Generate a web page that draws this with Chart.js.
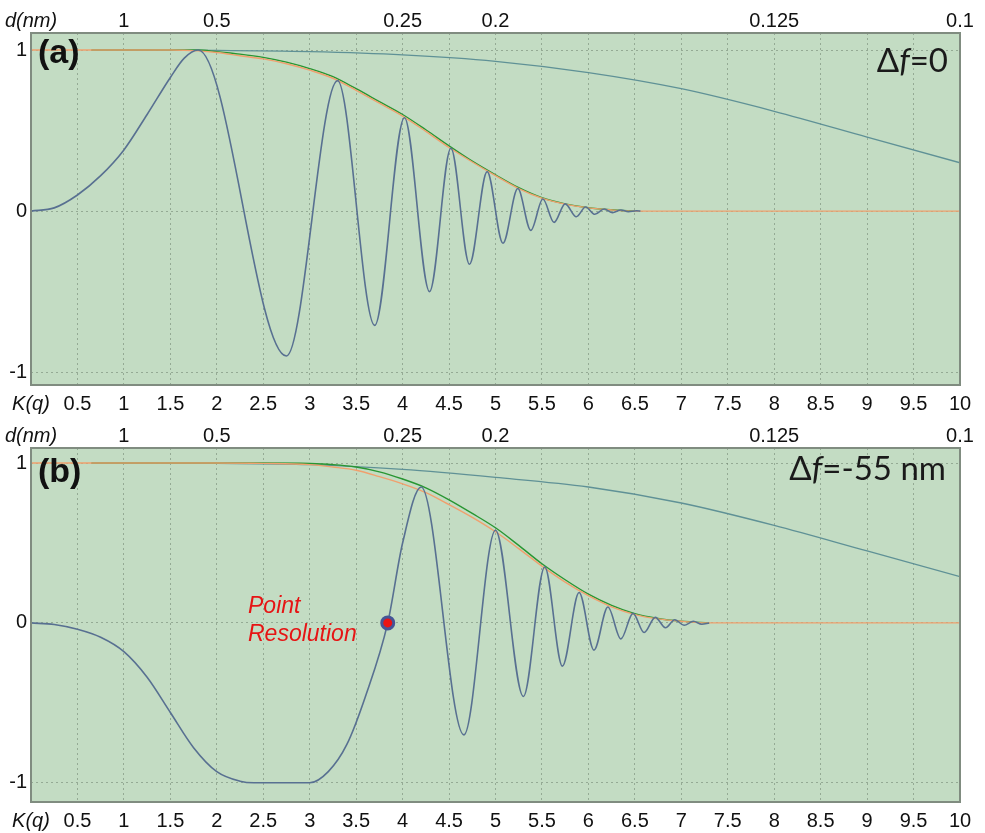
<!DOCTYPE html>
<html>
<head>
<meta charset="utf-8">
<script src="https://cdn.jsdelivr.net/npm/chart.js@4.4.1/dist/chart.umd.min.js"></script>
<style>
  html, body { margin: 0; padding: 0; background: #ffffff; }
  #wrap { position: relative; width: 985px; height: 833px; }
  canvas { position: absolute; left: 0; display: block; }
</style>
</head>
<body>
<div id="wrap">
  <canvas id="panelA" width="985" height="416" style="top:0"></canvas>
  <canvas id="panelB" width="985" height="417" style="top:416px"></canvas>
</div>
<script>
// ---- axis ticks -------------------------------------------------------
const kTickStep = 0.5;                         // K(q) ticks along the bottom
const dTickK     = [0, 1, 2, 4, 5, 8, 10];     // where the d(nm) labels sit on the K axis
const dTickText  = ['d(nm)', '1', '0.5', '0.25', '0.2', '0.125', '0.1'];
const yTickVals  = [-1, 0, 1];

// ---- panel (a): Δf = 0 --------------------------------------------------
// CTF: smooth start, then the successive maxima / minima of the oscillation
const ctfA_k = [0, 0.25, 0.5, 0.75, 1.0, 1.25, 1.5, 1.65, 1.8,
  2.75, 3.3, 3.70, 4.02, 4.29, 4.52, 4.72, 4.91, 5.08, 5.24, 5.38, 5.51, 5.63,
  5.75, 5.87, 5.97, 6.07, 6.17, 6.26, 6.35, 6.43, 6.52, 6.56];
const ctfA_v = [0, 0.02, 0.10, 0.22, 0.38, 0.60, 0.83, 0.95, 1.0,
  -0.90, 0.81, -0.71, 0.58, -0.50, 0.39, -0.33, 0.245, -0.20, 0.14, -0.12, 0.075, -0.07,
  0.045, -0.035, 0.025, -0.02, 0.013, -0.01, 0.007, -0.004, 0.002, 0];

const envA_k      = [0, 0.5, 1.0, 1.5, 1.8, 2.0, 2.25, 2.5, 2.75, 3.0, 3.25, 3.5, 3.75, 4.0, 4.25, 4.5,
  4.75, 5.0, 5.25, 5.5, 5.75, 6.0, 6.25, 6.5, 7.0, 8.0, 9.0, 10.0];
const envOrangeA  = [1, 1, 1, 1, 0.995, 0.985, 0.965, 0.945, 0.915, 0.875, 0.825, 0.75, 0.67, 0.59, 0.495, 0.395,
  0.305, 0.22, 0.14, 0.08, 0.043, 0.02, 0.007, 0, 0, 0, 0, 0];
const envGreenA_k = [0.65, 1.0, 1.5, 1.8, 2.0, 2.25, 2.5, 2.75, 3.0, 3.25, 3.5, 3.75, 4.0, 4.25, 4.5,
  4.75, 5.0, 5.25, 5.5, 5.75, 6.0, 6.25, 6.5];
const envGreenA   = [1, 1, 1, 1, 0.99, 0.975, 0.955, 0.925, 0.885, 0.835, 0.76, 0.68, 0.60, 0.505, 0.405,
  0.31, 0.225, 0.145, 0.083, 0.045, 0.021, 0.008, 0];
const spatA_k     = [0.65, 1, 2, 3, 4, 5, 6, 7, 8, 9, 10];
const spatA       = [1, 1, 0.998, 0.99, 0.97, 0.93, 0.86, 0.76, 0.62, 0.46, 0.30];

// ---- panel (b): Δf = -55 nm ---------------------------------------------
const ctfB_k = [0, 0.25, 0.5, 0.75, 1.0, 1.25, 1.5, 1.75, 2.0, 2.25, 2.4, 3.0, 3.2, 3.4, 3.6, 3.84,
  4.0, 4.2, 4.66, 5.0, 5.3, 5.53, 5.72, 5.9, 6.06, 6.21, 6.35, 6.48, 6.60, 6.72, 6.83,
  6.93, 7.03, 7.13, 7.22, 7.3];
const ctfB_v = [0, -0.01, -0.04, -0.09, -0.18, -0.34, -0.56, -0.78, -0.93, -0.99, -1.0, -1.0, -0.93, -0.76, -0.46, 0,
  0.5, 0.85, -0.70, 0.58, -0.46, 0.35, -0.27, 0.19, -0.17, 0.10, -0.10, 0.06, -0.06, 0.035, -0.03,
  0.02, -0.015, 0.01, -0.008, 0];

const envB_k      = [0, 0.5, 1, 2, 2.5, 3.0, 3.25, 3.5, 3.75, 4.0, 4.25, 4.5, 4.75, 5.0, 5.25, 5.5,
  5.75, 6.0, 6.25, 6.5, 6.75, 7.0, 7.3, 8, 9, 10];
const envOrangeB  = [1, 1, 1, 1, 0.998, 0.99, 0.975, 0.955, 0.915, 0.87, 0.815, 0.74, 0.66, 0.57, 0.465, 0.355,
  0.255, 0.17, 0.10, 0.052, 0.025, 0.01, 0, 0, 0, 0];
const envGreenB_k = [0.65, 1, 2, 2.5, 3.0, 3.25, 3.5, 3.75, 4.0, 4.25, 4.5, 4.75, 5.0, 5.25, 5.5,
  5.75, 6.0, 6.25, 6.5, 6.75, 7.0, 7.3];
const envGreenB   = [1, 1, 1, 1, 0.997, 0.99, 0.975, 0.945, 0.90, 0.845, 0.77, 0.685, 0.595, 0.485, 0.37,
  0.27, 0.18, 0.11, 0.058, 0.028, 0.011, 0];
const spatB_k     = [0.65, 1, 2, 3, 4, 5, 6, 7, 8, 9, 10];
const spatB       = [1, 1, 0.998, 0.99, 0.96, 0.91, 0.85, 0.75, 0.61, 0.45, 0.29];

const pointResK = 3.84;   // first zero crossing of the defocused CTF

// ---- styling -------------------------------------------------------------
const PLOT_BG   = 'rgb(195,220,195)';
const FRAME     = 'rgb(128,140,128)';
const GRID      = 'rgba(110,130,110,0.55)';
const CTF_COL   = 'rgb(88,112,145)';
const SPAT_COL  = 'rgb(95,145,150)';
const GREEN_COL = 'rgb(40,150,50)';
const ORANGE_COL= 'rgb(240,160,110)';
const FONT      = '"Liberation Sans", Arial, sans-serif';

const pts = (ks, vs) => ks.map((k, i) => ({ x: k, y: vs[i] }));

// monotone cubic keeps every listed maximum / minimum as a true extremum
function curve(data, color, width, order) {
  return {
    type: 'line', data, borderColor: color, borderWidth: width,
    pointRadius: 0, fill: false, cubicInterpolationMode: 'monotone', order
  };
}

// background, frame and in-plot text
const panelDecor = {
  id: 'panelDecor',
  beforeDraw(chart) {
    const { ctx, chartArea: a } = chart;
    ctx.save();
    ctx.fillStyle = PLOT_BG;
    ctx.fillRect(a.left, a.top, a.right - a.left, a.bottom - a.top);
    ctx.restore();
  },
  afterDraw(chart, args, opts) {
    const { ctx, chartArea: a } = chart;
    ctx.save();
    ctx.strokeStyle = FRAME;
    ctx.lineWidth = 2;
    ctx.strokeRect(a.left, a.top, a.right - a.left, a.bottom - a.top);

    // panel tag
    ctx.fillStyle = '#111';
    ctx.font = 'bold 34px ' + FONT;
    ctx.textBaseline = 'alphabetic';
    ctx.textAlign = 'left';
    ctx.fillText(opts.tag, a.left + 7, opts.tagY);

    // defocus label: Δ, italic f, remainder
    const size = 33;
    const fam = 'Lato, "Open Sans", sans-serif';
    const parts = [
      { t: '\u0394', f: `${size}px ${fam}` },
      { t: 'f', f: `italic ${size}px ${fam}` },
      { t: opts.defocus, f: `${size}px ${fam}` }
    ];
    let total = 0;
    parts.forEach(p => { ctx.font = p.f; p.w = ctx.measureText(p.t).width; total += p.w; });
    let x = opts.defocusRight - total;
    ctx.fillStyle = '#1a1a1a';
    parts.forEach(p => { ctx.font = p.f; ctx.fillText(p.t, x, opts.defocusY); x += p.w; });

    // optional annotation next to a marked point
    if (opts.note) {
      ctx.fillStyle = 'rgb(230,20,20)';
      ctx.font = 'italic 23px ' + FONT;
      opts.note.forEach(n => ctx.fillText(n.t, n.x, n.y));
    }
    ctx.restore();
  }
};

function makePanel(canvasId, spec) {
  const datasets = [
    curve(pts(spec.spatK, spec.spat), SPAT_COL, 1.3, 5),
    curve(pts(spec.greenK, spec.green), GREEN_COL, 1.4, 4),
    curve(pts(spec.orangeK, spec.orange), ORANGE_COL, 1.4, 3),
    curve(pts(spec.ctfK, spec.ctf), CTF_COL, 1.6, 2)
  ];
  if (spec.marker) {
    datasets.push({
      type: 'scatter', data: [{ x: spec.marker, y: 0 }],
      pointRadius: 6, pointBackgroundColor: 'rgb(235,20,20)',
      pointBorderColor: 'rgb(70,85,150)', pointBorderWidth: 3, order: 0
    });
  }
  return new Chart(document.getElementById(canvasId), {
    type: 'line',
    data: { datasets },
    options: {
      responsive: false,
      animation: false,
      devicePixelRatio: 1,
      layout: { padding: { left: 0, right: 25, top: 0, bottom: 0 } },
      plugins: {
        legend: { display: false },
        tooltip: { enabled: false },
        panelDecor: spec.decor
      },
      scales: {
        x: {
          type: 'linear', position: 'bottom', min: 0, max: 10,
          afterFit: s => { s.height = spec.bottomH; },
          ticks: {
            stepSize: kTickStep, autoSkip: false, maxRotation: 0, padding: 7,
            color: '#111',
            font: c => ({ family: FONT, size: 20, style: c.tick && c.tick.value === 0 ? 'italic' : 'normal' }),
            callback: v => (v === 0 ? 'K(q)' : String(v))
          },
          grid: {
            color: c => (c.tick && (c.tick.value === 0 || c.tick.value === 10) ? 'rgba(0,0,0,0)' : GRID),
            lineWidth: 1, drawTicks: false
          },
          border: { display: false, dash: [2, 3] }
        },
        xTop: {
          type: 'linear', position: 'top', min: 0, max: 10,
          afterFit: s => { s.height = spec.topH; },
          afterBuildTicks: s => { s.ticks = dTickK.map(v => ({ value: v })); },
          ticks: {
            autoSkip: false, maxRotation: 0, padding: 0, color: '#111',
            font: c => ({ family: FONT, size: 20, style: c.index === 0 ? 'italic' : 'normal' }),
            callback: (v, i) => dTickText[i]
          },
          grid: { display: false, drawTicks: false },
          border: { display: false }
        },
        y: {
          type: 'linear', position: 'left', min: spec.yMin, max: spec.yMax,
          afterFit: s => { s.width = 31; },
          afterBuildTicks: s => { s.ticks = yTickVals.map(v => ({ value: v })); },
          ticks: { padding: 4, color: '#111', font: { family: FONT, size: 20 } },
          grid: { color: GRID, lineWidth: 1, drawTicks: false },
          border: { display: false, dash: [2, 3] }
        }
      }
    },
    plugins: [panelDecor]
  });
}

makePanel('panelA', {
  ctfK: ctfA_k, ctf: ctfA_v,
  orangeK: envA_k, orange: envOrangeA,
  greenK: envGreenA_k, green: envGreenA,
  spatK: spatA_k, spat: spatA,
  yMin: -1.08, yMax: 1.106, topH: 33, bottomH: 31,
  decor: { tag: '(a)', tagY: 63, defocus: '=0', defocusRight: 948, defocusY: 72 }
});

makePanel('panelB', {
  ctfK: ctfB_k, ctf: ctfB_v,
  orangeK: envB_k, orange: envOrangeB,
  greenK: envGreenB_k, green: envGreenB,
  spatK: spatB_k, spat: spatB,
  marker: pointResK,
  yMin: -1.12, yMax: 1.094, topH: 32, bottomH: 31,
  decor: {
    tag: '(b)', tagY: 66, defocus: '=-55 nm', defocusRight: 946, defocusY: 64,
    note: [{ t: 'Point', x: 248, y: 197 }, { t: 'Resolution', x: 248, y: 225 }]
  }
});
</script>
</body>
</html>
